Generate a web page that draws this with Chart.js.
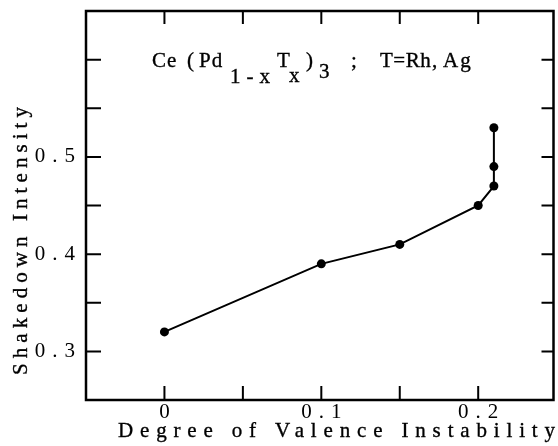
<!DOCTYPE html>
<html>
<head>
<meta charset="utf-8">
<script src="https://cdn.jsdelivr.net/npm/chart.js@4.4.1/dist/chart.umd.min.js"></script>
<style>
  html, body { margin: 0; padding: 0; background: #fff; }
  canvas { display: block; }
</style>
</head>
<body>
<canvas id="chart" width="558" height="446"></canvas>
<script>
// values
const valenceInstability = [0, 0.1, 0.15, 0.2, 0.21, 0.21, 0.21];
const shakedownIntensity = [0.32, 0.39, 0.41, 0.45, 0.47, 0.49, 0.53];
const xTickValues = [0, 0.05, 0.1, 0.15, 0.2];
const xTickLabels = [0, 0.1, 0.2];
const yTickValues = [0.3, 0.35, 0.4, 0.45, 0.5, 0.55, 0.6];
const yTickLabels = [0.3, 0.4, 0.5];

const serif = 'Liberation Serif';
const tickSpacing = 7;

const points = valenceInstability.map((v, i) => ({ x: v, y: shakedownIntensity[i] }));
const isLabel = (list, v) => list.some(l => Math.abs(l - v) < 1e-6);

// formula: [text, x, baseline shift, letter spacing]
const formula = [
    ['Ce', 152, 0, 1], ['(', 187, 0, 0], ['Pd', 199, 0, 1], ['1-x', 230, 16, 6],
    ['T', 277, 0, 0], ['x', 289, 15, 0], [')', 306, 0, 0], ['3', 319, 11, 0],
    [';', 351, 0, 0], ['T=Rh', 380, 0, 0.5], [',', 432, 0, 0], ['Ag', 443, 0, 2]
];

// slightly heavier text, like the printed figure
function inkText(ctx, txt, x, y) {
    ctx.fillText(txt, x, y);
    ctx.strokeText(txt, x, y);
}

// draw text stretched by letter spacing to a given width
function spacedText(ctx, txt, x, y, width) {
    ctx.letterSpacing = '0px';
    const natural = ctx.measureText(txt).width;
    const s = (width - natural) / (txt.length - 1);
    ctx.letterSpacing = s + 'px';
    inkText(ctx, txt, x, y);
}

const frameTicks = {
    id: 'frameTicks',
    beforeDraw(chart) {
        chart.ctx.letterSpacing = tickSpacing + 'px';
    },
    afterDraw(chart) {
        const ctx = chart.ctx;
        const a = chart.chartArea;
        const xs = chart.scales.x, ys = chart.scales.y;
        ctx.save();
        ctx.letterSpacing = '0px';
        ctx.strokeStyle = '#000';
        ctx.lineWidth = 2.5;
        ctx.strokeRect(a.left, a.top, a.right - a.left, a.bottom - a.top);
        ctx.lineWidth = 2;
        ctx.beginPath();
        xs.ticks.forEach(t => {
            const px = xs.getPixelForValue(t.value);
            ctx.moveTo(px, a.bottom); ctx.lineTo(px, a.bottom - 14);
            ctx.moveTo(px, a.top); ctx.lineTo(px, a.top + 13);
        });
        ys.ticks.forEach(t => {
            const py = ys.getPixelForValue(t.value);
            ctx.moveTo(a.left, py); ctx.lineTo(a.left + 15, py);
            ctx.moveTo(a.right, py); ctx.lineTo(a.right - 12, py);
        });
        ctx.stroke();

        ctx.fillStyle = '#000';
        ctx.lineWidth = 0.35;
        ctx.textAlign = 'left';
        ctx.textBaseline = 'alphabetic';

        // formula label
        ctx.font = '21px "' + serif + '"';
        const base = a.top + 56;
        formula.forEach(([txt, x, dy, sp]) => {
            ctx.letterSpacing = sp + 'px';
            inkText(ctx, txt, x, base + dy);
        });

        // axis titles
        ctx.font = '21px "' + serif + '"';
        spacedText(ctx, 'Degree of Valence Instability', 118, 437, 437);

        ctx.translate(27, 375);
        ctx.rotate(-Math.PI / 2);
        spacedText(ctx, 'Shakedown Intensity', 0, 0, 268);
        ctx.restore();
    }
};

new Chart(document.getElementById('chart'), {
    type: 'scatter',
    data: {
        datasets: [{
            data: points,
            showLine: true,
            borderColor: '#000',
            backgroundColor: '#000',
            borderWidth: 2,
            pointRadius: 4.5,
            pointBackgroundColor: '#000',
            pointBorderWidth: 0
        }]
    },
    options: {
        responsive: false,
        animation: false,
        devicePixelRatio: 1,
        layout: { padding: { top: 11, right: 2, left: 0, bottom: 0 } },
        plugins: { legend: { display: false }, tooltip: { enabled: false } },
        scales: {
            x: {
                type: 'linear',
                min: -0.05,
                max: 0.248,
                afterBuildTicks(s) { s.ticks = xTickValues.map(v => ({ value: v })); },
                afterFit(s) { s.height = 46; s.paddingLeft = 0; s.paddingRight = 0; },
                grid: { display: false, drawTicks: false },
                border: { display: false },
                ticks: {
                    autoSkip: false,
                    maxRotation: 0,
                    padding: 0,
                    labelOffset: tickSpacing / 2,
                    color: '#000',
                    font: { family: serif, size: 21 },
                    callback: v => isLabel(xTickLabels, v) ? String(+v.toFixed(2)) : ''
                }
            },
            y: {
                type: 'linear',
                min: 0.25,
                max: 0.65,
                afterBuildTicks(s) { s.ticks = yTickValues.map(v => ({ value: v })); },
                afterFit(s) { s.width = 86; s.paddingTop = 0; s.paddingBottom = 0; },
                grid: { display: false, drawTicks: false },
                border: { display: false },
                ticks: {
                    autoSkip: false,
                    padding: 4,
                    color: '#000',
                    font: { family: serif, size: 21 },
                    callback: v => isLabel(yTickLabels, v) ? (+v).toFixed(1) : ''
                }
            }
        }
    },
    plugins: [frameTicks]
});
</script>
</body>
</html>
